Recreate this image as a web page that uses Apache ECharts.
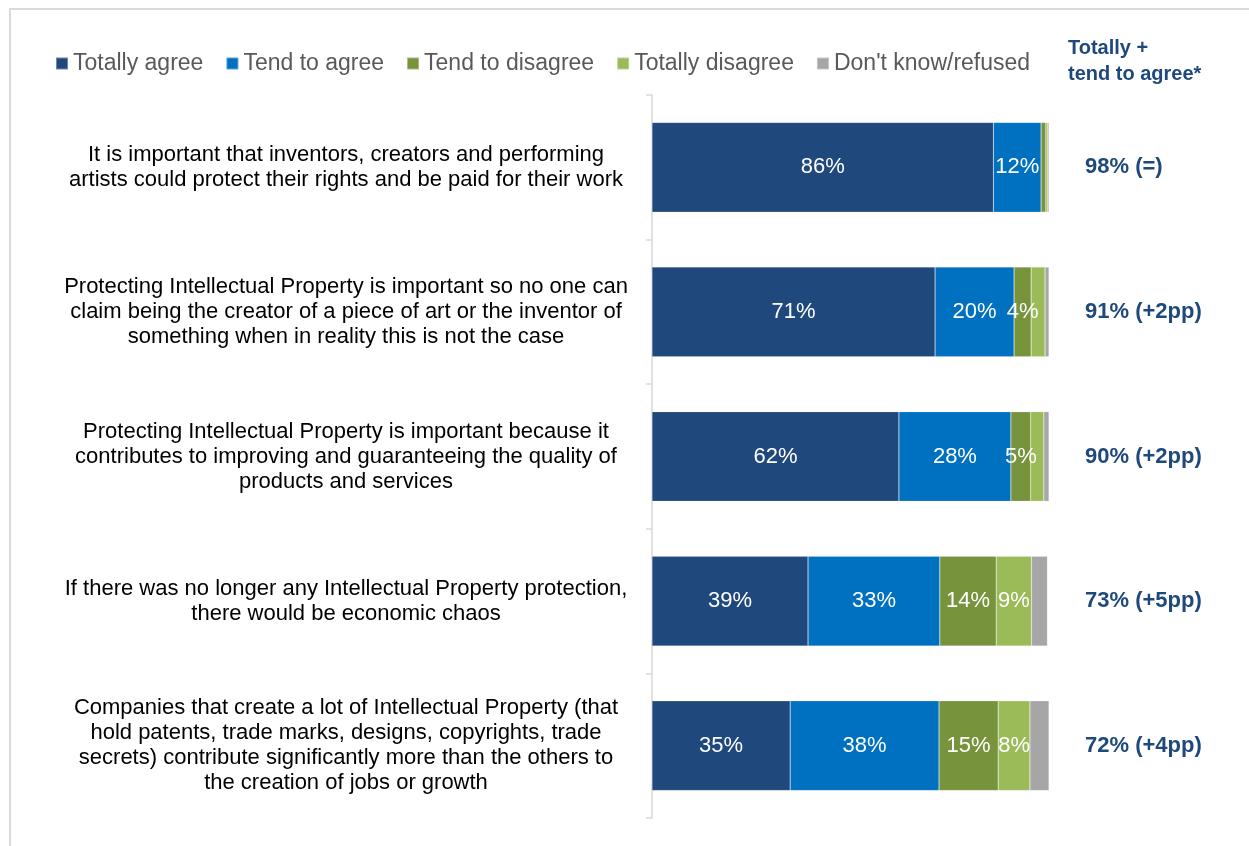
<!DOCTYPE html>
<html>
<head>
<meta charset="utf-8">
<script src="https://cdn.jsdelivr.net/npm/echarts@6/dist/echarts.min.js"></script>
<style>
  html, body { margin: 0; padding: 0; background: #fff; }
  #chart { width: 1249px; height: 846px; }
</style>
</head>
<body>
<div id="chart"></div>
<script>
// statements, top to bottom
var categories = [
  'It is important that inventors, creators and performing\nartists could protect their rights and be paid for their work',
  'Protecting Intellectual Property is important so no one can\nclaim being the creator of a piece of art or the inventor of\nsomething when in reality this is not the case',
  'Protecting Intellectual Property is important because it\ncontributes to improving and guaranteeing the quality of\nproducts and services',
  'If there was no longer any Intellectual Property protection,\nthere would be economic chaos',
  'Companies that create a lot of Intellectual Property (that\nhold patents, trade marks, designs, copyrights, trade\nsecrets) contribute significantly more than the others to\nthe creation of jobs or growth'
];
var seriesNames = ['Totally agree', 'Tend to agree', 'Tend to disagree', 'Totally disagree', "Don't know/refused"];
var totallyAgree = [86, 71.3, 62.2, 39.3, 34.8];
var tendToAgree = [12, 19.9, 28.2, 33.2, 37.5];
var tendToDisagree = [1.2, 4.3, 5, 14.2, 14.9];
var totallyDisagree = [0.5, 3.5, 3.3, 8.9, 8];
var dontKnow = [0.3, 1, 1.3, 4, 4.8];
var totals = ['98% (=)', '91% (+2pp)', '90% (+2pp)', '73% (+5pp)', '72% (+4pp)'];

var colors = ['#1F497D', '#0070C0', '#77933C', '#9BBB59', '#A6A6A6'];
var values = [totallyAgree, tendToAgree, tendToDisagree, totallyDisagree, dontKnow];
var font = 'Liberation Sans, Arial, sans-serif';

var chart = echarts.init(document.getElementById('chart'));

var series = values.map(function (arr, i) {
  return {
    name: seriesNames[i],
    type: 'bar',
    stack: 'all',
    barCategoryGap: '38%',
    itemStyle: { color: colors[i], borderColor: 'rgba(255,255,255,0.35)', borderWidth: 0.5 },
    label: {
      show: i < 4,
      position: 'inside',
      color: '#fff',
      fontSize: 22,
      fontFamily: font,
      formatter: function (p) {
        return p.value >= 4 ? Math.round(p.value) + '%' : '';
      }
    },
    data: arr
  };
});

chart.setOption({
  animation: false,
  color: colors,
  graphic: [{
    type: 'rect',
    shape: { x: 10, y: 9, width: 1300, height: 900 },
    style: { fill: 'none', stroke: '#d9d9d9', lineWidth: 2 },
    silent: true
  }],
  title: {
    text: 'Totally +\ntend to agree*',
    left: 1063,
    top: 30,
    textStyle: {
      color: '#1F497D',
      fontSize: 20,
      fontWeight: 'bold',
      lineHeight: 26,
      fontFamily: font
    }
  },
  legend: {
    data: seriesNames,
    left: 50,
    top: 47,
    icon: 'rect',
    itemWidth: 12,
    itemHeight: 12,
    itemGap: 22,
    textStyle: {
      color: '#595959',
      fontSize: 23,
      fontFamily: font
    }
  },
  grid: {
    left: 652,
    right: 200,
    top: 95,
    bottom: 28
  },
  xAxis: {
    type: 'value',
    min: 0,
    max: 100,
    show: false
  },
  yAxis: [{
    type: 'category',
    inverse: true,
    data: categories,
    axisLine: { show: true, lineStyle: { color: '#d9d9d9', width: 1.5 } },
    axisTick: { show: true, length: 6, lineStyle: { color: '#d9d9d9', width: 1.5 } },
    axisLabel: {
      color: '#000',
      fontSize: 22,
      lineHeight: 25,
      align: 'center',
      margin: 306,
      fontFamily: font
    }
  }, {
    type: 'category',
    inverse: true,
    position: 'right',
    data: totals,
    axisLine: { show: false },
    axisTick: { show: false },
    axisLabel: {
      color: '#1F497D',
      fontSize: 22,
      fontWeight: 'bold',
      align: 'left',
      margin: 36,
      fontFamily: font
    }
  }],
  series: series
});
</script>
</body>
</html>
